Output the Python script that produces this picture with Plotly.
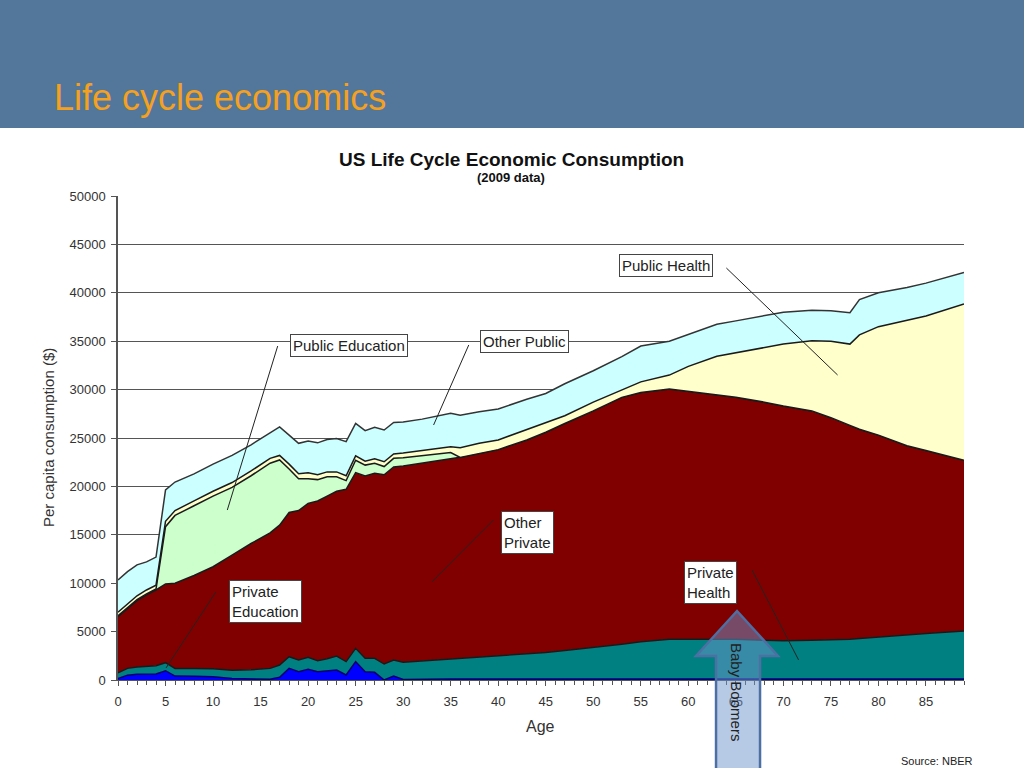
import plotly.graph_objects as go

# ---- data ----
ages = [0, 1, 2, 3, 4, 5, 6, 8, 10, 12, 14, 16, 17, 18, 19, 20, 21, 22, 23, 24, 25, 26, 27, 28, 29,
        30, 32, 35, 36, 38, 40, 43, 45, 47, 50, 53, 55, 58, 60, 63, 65, 68, 70, 73, 75, 77, 78, 80,
        83, 85, 89]

private_education = [150, 500, 600, 620, 620, 960, 410, 380, 330, 150, 80, 80, 280, 1200, 860, 1100,
                     860, 950, 1030, 520, 1900, 860, 790, 0, 410, 50, 100, 100, 100, 100, 100, 100,
                     100, 100, 100, 100, 100, 100, 100, 100, 100, 100, 100, 100, 100, 100, 100, 100,
                     100, 100, 100]
private_health = [600, 700, 750, 800, 860, 830, 790, 820, 820, 850, 970, 1120, 1270, 1210, 1210, 1240,
                  1140, 1250, 1450, 1380, 1370, 1380, 1450, 1650, 1660, 1780, 1860, 2050, 2120, 2280,
                  2450, 2620, 2750, 2950, 3250, 3600, 3850, 4100, 4100, 4100, 4100, 4000, 3960, 4000,
                  4030, 4100, 4200, 4350, 4600, 4700, 4960]
other_private = [5790, 6200, 6850, 7380, 7820, 8130, 8800, 9600, 10550, 11900, 13050, 14000, 14450,
                 14890, 15430, 15910, 16500, 16800, 17020, 17800, 18150, 18830, 19110, 19550, 19930,
                 20270, 20440, 20750, 20780, 21020, 21250, 22080, 22750, 23450, 24450, 25500, 25750,
                 25850, 25600, 25300, 25000, 24600, 24240, 23700, 22970, 22100, 21600, 20850, 19500,
                 18900, 17640]
public_education = [110, 100, 100, 100, 100, 5920, 7000, 7200, 7300, 7000, 7000, 7200, 6730, 4500,
                    3300, 2550, 2200, 2000, 1500, 900, 1280, 1130, 1050, 850, 900, 850, 800, 600, 0,
                    0, 0, 0, 0, 0, 0, 0, 0, 0, 0, 0, 0, 0, 0, 0, 0, 0, 0, 0, 0, 0, 0]
public_health = [350, 400, 400, 400, 400, 560, 500, 500, 500, 500, 500, 500, 470, 500, 500, 600, 500,
                 500, 500, 500, 450, 400, 450, 500, 450, 500, 500, 600, 1000, 1050, 1000, 1100, 1000,
                 800, 900, 750, 1100, 1450, 2600, 3950, 4600, 5600, 6400, 7250, 7900, 8400, 9750,
                 11200, 12950, 13900, 16150]
other_public = [3330, 3300, 3200, 2900, 2900, 3230, 2950, 2800, 2800, 2800, 2700, 2600, 2950, 3000,
                3150, 3300, 3300, 3350, 3450, 3520, 3370, 3160, 3260, 3280, 3250, 3200, 3250, 3450,
                3350, 3250, 3200, 3100, 3000, 3300, 3250, 3450, 3700, 3500, 3300, 3300, 3300, 3300,
                3300, 3150, 3150, 3250, 3650, 3500, 3400, 3400, 3250]

x_ticks = list(range(0, 90, 5))
y_ticks = list(range(0, 50001, 5000))
y_tick_labels = [str(v) for v in y_ticks]

series = [
    ("Private Education", private_education, "#0000FF", "#000066"),
    ("Private Health", private_health, "#008080", "#1a1a1a"),
    ("Other Private", other_private, "#800000", "#1a1a1a"),
    ("Public Education", public_education, "#CCFFCC", "#1a1a1a"),
    ("Public Health", public_health, "#FFFFCC", "#1a1a1a"),
    ("Other Public", other_public, "#CCFFFF", "#333333"),
]

fig = go.Figure()
for name, vals, fillc, linec in series:
    fig.add_trace(go.Scatter(
        x=ages, y=vals, name=name, mode="lines", stackgroup="one",
        fillcolor=fillc, line=dict(color=linec, width=1.5), hoverinfo="x+y+name",
    ))

FONT = "Liberation Sans, Arial, sans-serif"

def px2x(px):
    return (px - 118) / 846.0

def px2y(py):
    return (680 - py) / 484.0

shapes = []
# header band
shapes.append(dict(type="rect", xref="paper", yref="paper", x0=px2x(-5), x1=px2x(1030),
                   y0=px2y(128), y1=px2y(-5), fillcolor="#53779A", line=dict(width=0), layer="below"))

# leader lines for labels (age, value)
leaders = [
    ((16.8, 34500), (11.5, 17560)),   # Public Education
    ((36.9, 34610), (33.2, 26340)),   # Other Public
    ((64.0, 42560), (75.7, 31510)),   # Public Health
    ((39.5, 16530), (33.0, 10120)),   # Other Private
    ((10.3, 9090), (5.05, 1240)),     # Private Education
    ((66.7, 11360), (71.6, 2070)),    # Private Health
]
for (a0, v0), (a1, v1) in leaders:
    shapes.append(dict(type="line", xref="x", yref="y", x0=a0, y0=v0, x1=a1, y1=v1,
                       line=dict(color="#222222", width=1), layer="above"))

# Baby boomers block arrow
pts = [(737, 611), (778, 656), (760, 656), (760, 775), (716, 775), (716, 656), (696, 656)]
path = "M " + " L ".join(f"{px2x(a):.4f},{px2y(b):.4f}" for a, b in pts) + " Z"
shapes.append(dict(type="path", xref="paper", yref="paper", path=path,
                   fillcolor="rgba(110,150,205,0.5)", line=dict(color="#4D6FA3", width=2.5),
                   layer="above"))

annotations = []
annotations.append(dict(text="Life cycle economics", xref="paper", yref="paper",
                        x=px2x(52), y=px2y(98), xanchor="left", yanchor="middle", showarrow=False,
                        font=dict(family=FONT, size=36, color="#F5A01E")))
annotations.append(dict(text="<b>US Life Cycle Economic Consumption</b>", xref="paper", yref="paper",
                        x=px2x(511), y=px2y(159), xanchor="center", yanchor="middle", showarrow=False,
                        font=dict(family=FONT, size=19, color="#111111")))
annotations.append(dict(text="<b>(2009 data)</b>", xref="paper", yref="paper",
                        x=px2x(511), y=px2y(177), xanchor="center", yanchor="middle", showarrow=False,
                        font=dict(family=FONT, size=13, color="#111111")))
annotations.append(dict(text="Age", xref="paper", yref="paper", x=px2x(540), y=px2y(726),
                        xanchor="center", yanchor="middle", showarrow=False,
                        font=dict(family=FONT, size=16, color="#333333")))
annotations.append(dict(text="Per capita consumption ($)", xref="paper", yref="paper",
                        x=px2x(48), y=px2y(438), xanchor="center", yanchor="middle", showarrow=False,
                        textangle=-90, font=dict(family=FONT, size=15, color="#333333")))
annotations.append(dict(text="Source: NBER", xref="paper", yref="paper", x=px2x(975), y=px2y(761),
                        xanchor="right", yanchor="middle", showarrow=False,
                        font=dict(family=FONT, size=11, color="#222222")))
annotations.append(dict(text="Baby Boomers", xref="paper", yref="paper", x=px2x(737), y=px2y(692),
                        xanchor="center", yanchor="middle", showarrow=False, textangle=90,
                        font=dict(family=FONT, size=15, color="#222222")))

# label boxes (centre age, centre value)
boxes = [
    ("Public Education", 24.25, 34560),
    ("Other Public", 42.8, 34920),
    ("Public Health", 57.65, 42770),
    ("Other<br>Private", 43.03, 15190),
    ("Private<br>Education", 15.52, 8060),
    ("Private<br>Health", 62.28, 10070),
]
for txt, a, v in boxes:
    annotations.append(dict(text=txt, x=a, y=v, xref="x", yref="y", showarrow=False,
                            xanchor="center", yanchor="middle", align="left",
                            bgcolor="white", bordercolor="#444444", borderwidth=1, borderpad=2,
                            font=dict(family=FONT, size=15, color="#222222")))

fig.update_layout(
    width=1024, height=768,
    margin=dict(l=118, r=60, t=196, b=88),
    paper_bgcolor="white", plot_bgcolor="white",
    showlegend=False,
    shapes=shapes, annotations=annotations,
    font=dict(family=FONT, color="#333333"),
)
fig.update_xaxes(range=[0, 89], tickvals=x_ticks, showgrid=False, zeroline=False,
                 ticks="outside", ticklen=5, tickcolor="#555555", showline=True,
                 linecolor="#555555", linewidth=1,
                 minor=dict(dtick=1, tick0=0, ticks="outside", ticklen=4, tickcolor="#555555"),
                 tickfont=dict(family=FONT, size=13, color="#333333"), ticklabelstandoff=4)
fig.update_yaxes(range=[0, 50000], tickvals=y_ticks, ticktext=y_tick_labels, showgrid=True,
                 gridcolor="#555555", gridwidth=1.3, zeroline=False, ticks="outside", ticklen=5,
                 tickcolor="#555555", showline=True, linecolor="#555555", linewidth=1.5,
                 tickfont=dict(family=FONT, size=13, color="#333333"), ticklabelstandoff=3)

fig.write_html("out.html", config={"displayModeBar": False},
               post_script="document.body.style.margin='0px';")
